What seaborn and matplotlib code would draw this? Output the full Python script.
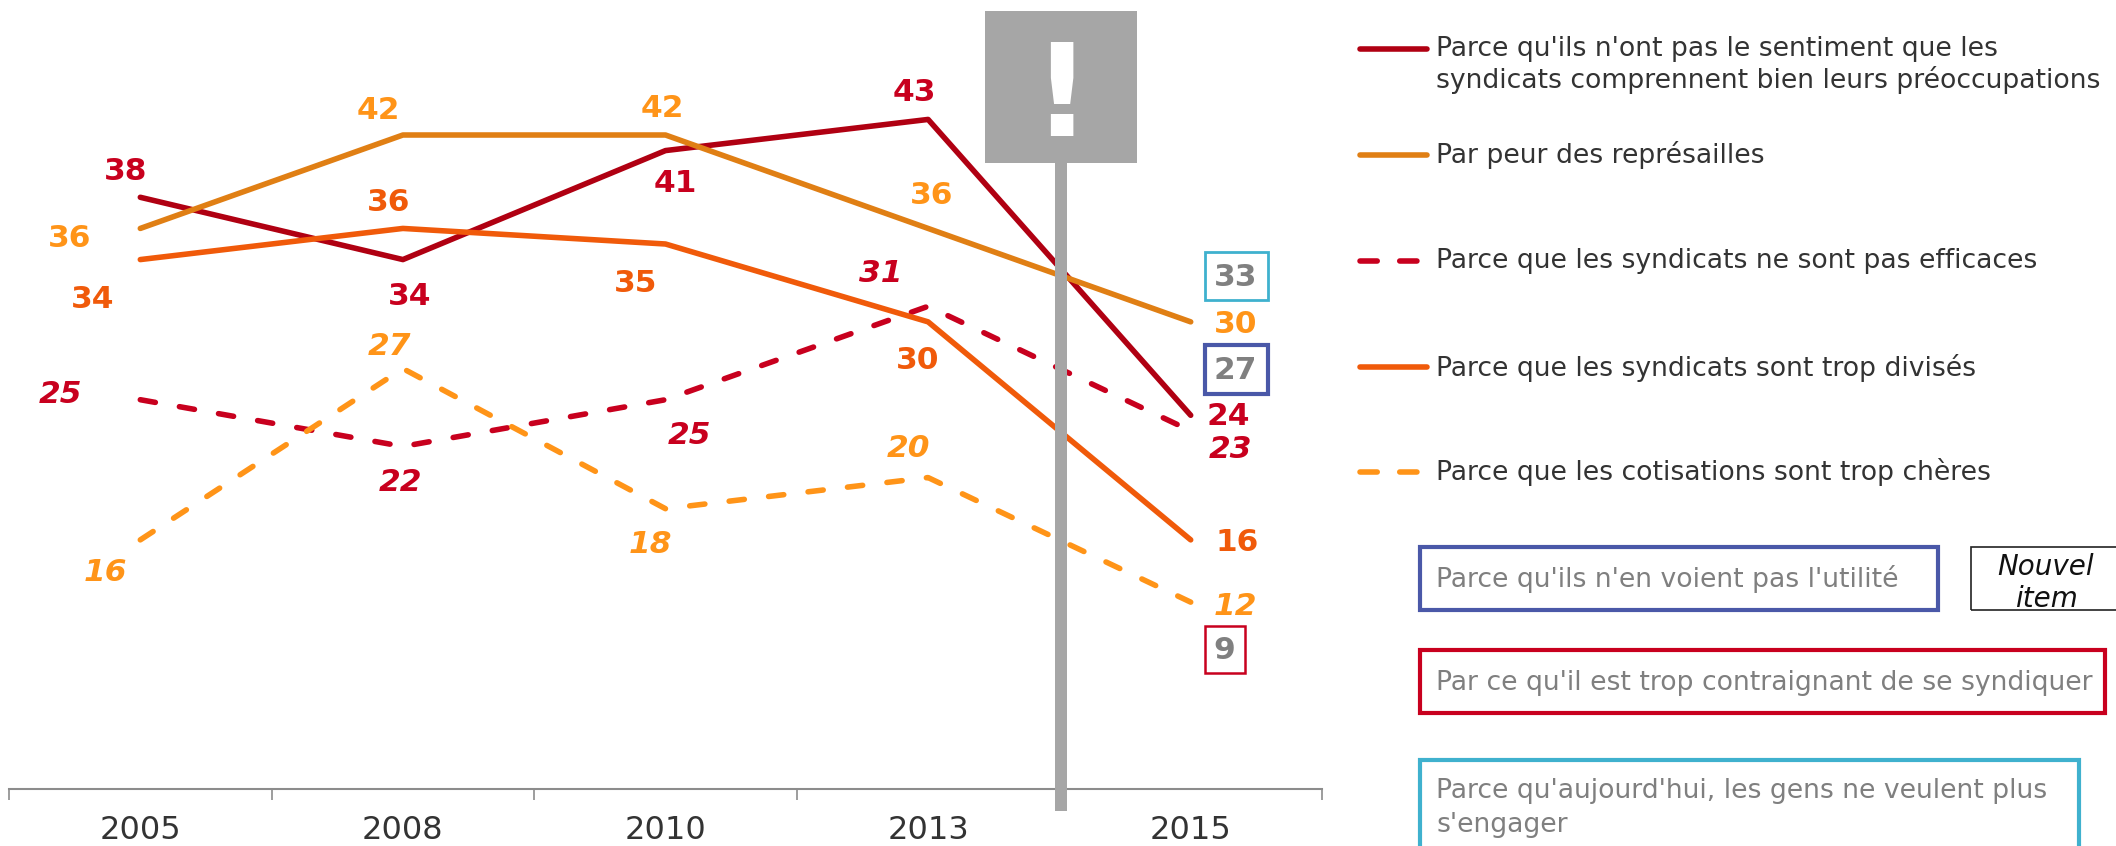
import matplotlib
matplotlib.use("Agg")
import matplotlib.pyplot as plt
import pandas as pd
import seaborn as sns
from matplotlib.lines import Line2D
from matplotlib.patches import Rectangle

years = ["2005", "2008", "2010", "2013", "2015"]

comprennent = [38, 34, 41, 43, 24]
represailles = [36, 42, 42, 36, 30]
efficaces = [25, 22, 25, 31, 23]
divises = [34, 36, 35, 30, 16]
cheres = [16, 27, 18, 20, 12]

new_utilite = 27
new_contraignant = 9
new_engager = 33

leg_comprennent = "Parce qu'ils n'ont pas le sentiment que les\nsyndicats comprennent bien leurs préoccupations"
leg_represailles = "Par peur des représailles"
leg_efficaces = "Parce que les syndicats ne sont pas efficaces"
leg_divises = "Parce que les syndicats sont trop divisés"
leg_cheres = "Parce que les cotisations sont trop chères"
txt_utilite = "Parce qu'ils n'en voient pas l'utilité"
txt_contraignant = "Par ce qu'il est trop contraignant de se syndiquer"
txt_engager = "Parce qu'aujourd'hui, les gens ne veulent plus\ns'engager"

W, H = 2116, 846
DARK_RED = "#B00012"
RED = "#C8001E"
ORANGE = "#E07F14"
LIGHT_ORANGE = "#FF9418"
RED_ORANGE = "#F05A0A"
GREY = "#A6A6A6"
BLUE = "#4A58A8"
CYAN = "#3FB1CE"

sns.set_theme(style="white")
plt.rcParams["font.family"] = ["DejaVu Sans"]

series = {
    "comprennent": comprennent,
    "represailles": represailles,
    "efficaces": efficaces,
    "divises": divises,
    "cheres": cheres,
}
rows = []
for name, values in series.items():
    for i, v in enumerate(values):
        rows.append({"pos": i, "val": v, "serie": name})
df = pd.DataFrame(rows)

line_colors = {
    "comprennent": DARK_RED,
    "represailles": ORANGE,
    "efficaces": RED,
    "divises": RED_ORANGE,
    "cheres": LIGHT_ORANGE,
}
dash = (2.75, 4.4)
legend_dash = (3.1, 4.05)
line_dashes = {
    "comprennent": "",
    "represailles": "",
    "efficaces": dash,
    "divises": "",
    "cheres": dash,
}

fig = plt.figure(figsize=(W / 100, H / 100), dpi=100, facecolor="white")
ax = fig.add_axes([9 / W, 1 - 789 / H, 1313 / W, 789 / H])
ax.patch.set_alpha(0)

sns.lineplot(
    data=df, x="pos", y="val", hue="serie", style="serie",
    palette=line_colors, dashes=line_dashes, linewidth=4,
    legend=False, ax=ax, errorbar=None,
)
for line in ax.lines:
    line.set_dash_capstyle("round")
    line.set_solid_capstyle("round")
    line.set_solid_joinstyle("round")

ax.set_xlim(-0.5, 4.5)
ax.set_ylim(0, 50.67)
ax.set_xlabel("")
ax.set_ylabel("")
ax.set_yticks([])
ax.set_xticks(range(5))
ax.set_xticklabels(years, fontsize=23, color="#333333")
ax.set_xticks([-0.5, 0.5, 1.5, 2.5, 3.5, 4.5], minor=True)
ax.tick_params(axis="x", which="major", length=0, pad=19)
ax.tick_params(axis="x", which="minor", length=8, width=1.2, color="#8C8C8C", bottom=True)
sns.despine(ax=ax, left=True)
ax.spines["bottom"].set_color("#8C8C8C")
ax.spines["bottom"].set_linewidth(1.5)

# label offsets from the point, in pixels (dx, up)
off_comprennent = [(-15, 26), (7, -37), (10, -33), (-14, 27), (38, -1)]
off_represailles = [(-71, -10), (-25, 25), (-3, 27), (3, 33), (45, -3)]
off_efficaces = [(-80, 5), (-2, -36), (24, -36), (-47, 33), (40, -19)]
off_divises = [(-48, -40), (-14, 26), (-30, -39), (-10, -39), (46, -3)]
off_cheres = [(-35, -33), (-13, 22), (-15, -36), (-20, 29), (45, -4)]


def put_labels(values, offsets, color, style="normal"):
    for i, v in enumerate(values):
        ax.annotate(
            str(v), (i, v), xytext=offsets[i], textcoords="offset pixels",
            ha="center", va="center", fontsize=22.5, fontweight="bold",
            fontstyle=style, color=color, annotation_clip=False,
        )


put_labels(comprennent, off_comprennent, RED)
put_labels(represailles, off_represailles, LIGHT_ORANGE)
put_labels(efficaces, off_efficaces, RED, "italic")
put_labels(divises, off_divises, RED_ORANGE)
put_labels(cheres, off_cheres, LIGHT_ORANGE, "italic")

for v, dx in [(new_engager, 45), (new_utilite, 45), (new_contraignant, 34)]:
    ax.annotate(
        str(v), (4, v), xytext=(dx, -2), textcoords="offset pixels",
        ha="center", va="center", fontsize=22.5, fontweight="bold",
        color="#808080", annotation_clip=False,
    )


def px_rect(x0, y0, x1, y1, **kw):
    fig.add_artist(Rectangle((x0 / W, 1 - y1 / H), (x1 - x0) / W, (y1 - y0) / H,
                             transform=fig.transFigure, **kw))


def px_text(x, y, s, **kw):
    fig.text(x / W, 1 - y / H, s, va="center", **kw)


# small boxes around the new items
px_rect(1205, 252, 1268, 300, fill=False, ec=CYAN, lw=2)
px_rect(1205, 345, 1268, 394, fill=False, ec=BLUE, lw=3)
px_rect(1205, 626, 1245, 673, fill=False, ec=RED, lw=1.8)

# warning sign
px_rect(1055, 160, 1067, 811, fc=GREY, ec="none", zorder=5)
px_rect(985, 11, 1137, 163, fc=GREY, ec="none", zorder=5)
fig.text(1061 / W, 1 - 101 / H, "!", color="white", fontsize=92, fontweight="bold",
         ha="center", va="center", zorder=6)

# legend
legend_rows = [
    (49, 65, leg_comprennent, DARK_RED, "-"),
    (155, 155, leg_represailles, ORANGE, "-"),
    (261, 261, leg_efficaces, RED, legend_dash),
    (367, 368, leg_divises, RED_ORANGE, "-"),
    (472, 472, leg_cheres, LIGHT_ORANGE, legend_dash),
]
for y_line, y_text, label, color, ls in legend_rows:
    lstyle = "-" if ls == "-" else (0, ls)
    x_end = 1427 if ls == "-" else 1418
    fig.add_artist(Line2D([1360 / W, x_end / W], [1 - y_line / H] * 2, color=color,
                          lw=4, linestyle=lstyle, solid_capstyle="round",
                          dash_capstyle="round", transform=fig.transFigure))
    px_text(1436, y_text, label, color="#333333", fontsize=19.15, linespacing=1.22)

# extra items without a line
px_rect(1420, 547, 1938, 610, fill=False, ec=BLUE, lw=3)
px_rect(1420, 650, 2105, 713, fill=False, ec=RED, lw=3)
px_rect(1420, 760, 2079, 860, fill=False, ec=CYAN, lw=3)
px_text(1436, 579, txt_utilite, color="#7F7F7F", fontsize=19.15)
px_text(1436, 683, txt_contraignant, color="#7F7F7F", fontsize=19.15)
px_text(1436, 808, txt_engager, color="#7F7F7F", fontsize=19.15, linespacing=1.4)

px_rect(1971, 547, 2120, 610, fill=False, ec="#222222", lw=1.2)
fig.text(2046 / W, 1 - 567 / H, "Nouvel", color="#111111", fontsize=20, fontstyle="italic",
         ha="center", va="center")
fig.text(2046 / W, 1 - 599 / H, "item", color="#111111", fontsize=20, fontstyle="italic",
         ha="center", va="center")

fig.savefig("out.png", dpi=100)
